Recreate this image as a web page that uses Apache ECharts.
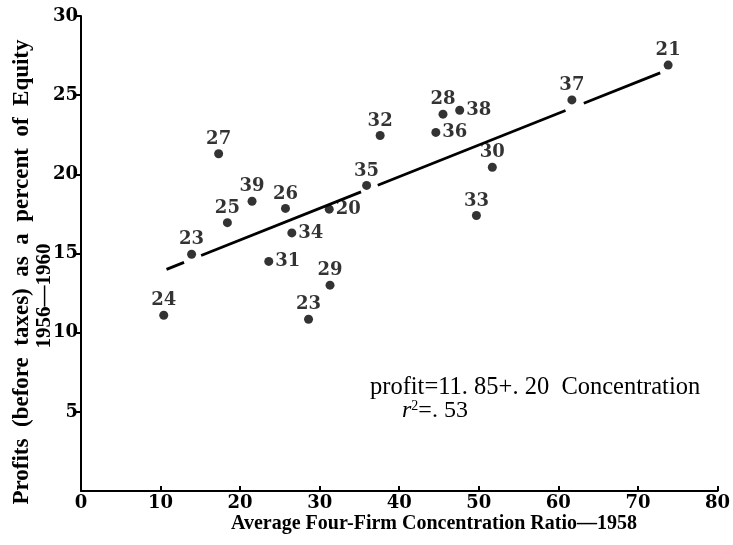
<!DOCTYPE html>
<html>
<head>
<meta charset="utf-8">
<script src="https://cdn.jsdelivr.net/npm/echarts@6/dist/echarts.min.js"></script>
<style>
  html, body { margin: 0; padding: 0; background: #fff; }
  #chart { width: 733px; height: 545px; }
</style>
</head>
<body>
<div id="chart"></div>
<script>
// Industry codes plotted at (concentration ratio, profit rate)
const industry = ['24', '23', '27', '25', '39', '26', '34', '31', '20', '29', '23',
                  '35', '32', '28', '38', '36', '30', '33', '37', '21'];
const concentration = [10.4, 13.9, 17.3, 18.4, 21.5, 25.7, 26.5, 23.6, 31.2, 31.3, 28.6,
                       35.9, 37.6, 45.5, 47.6, 44.6, 51.7, 49.7, 61.7, 73.8];
const profitRate = [11.1, 14.95, 21.3, 16.95, 18.3, 17.85, 16.3, 14.5, 17.8, 13.0, 10.85,
                    19.3, 22.45, 23.8, 24.05, 22.65, 20.45, 17.4, 24.7, 26.9];

// Fitted line: profit = 11.85 + .20 Concentration, drawn in pieces
const fitIntercept = 11.85;
const fitSlope = 0.20;
const fitPieces = [[10.75, 12.95], [15.1, 35.2], [37.3, 60.9], [63.2, 72.8]];

const xTicks = [0, 10, 20, 30, 40, 50, 60, 70, 80];
const yTicks = [0, 5, 10, 15, 20, 25, 30];

// codes whose label sits to the right of the dot
const labelRight = new Set(['34', '31', '20', '38', '36']);

const numFont = 'DejaVu Serif';
const textFont = '"Liberation Serif", "DejaVu Serif", serif';

const points = concentration.map((x, i) => ({
  value: [x, profitRate[i]],
  name: industry[i],
  label: labelRight.has(industry[i])
    ? { position: 'right', distance: 2 }
    : { position: 'top', distance: 1 }
}));

const fitSeries = fitPieces.map(([a, b]) => ({
  type: 'line',
  data: [[a, fitIntercept + fitSlope * a], [b, fitIntercept + fitSlope * b]],
  symbol: 'none',
  silent: true,
  lineStyle: { color: '#000', width: 2.8 },
  z: 2
}));

const chart = echarts.init(document.getElementById('chart'), null, { renderer: 'canvas' });

chart.setOption({
  animation: false,
  backgroundColor: '#fff',
  grid: { left: 81, right: 14, top: 16, bottom: 54, containLabel: false },
  xAxis: {
    type: 'value',
    min: xTicks[0],
    max: xTicks[xTicks.length - 1],
    interval: 10,
    axisLine: { lineStyle: { color: '#000', width: 2 } },
    axisTick: { inside: true, length: 5, lineStyle: { color: '#000', width: 2 } },
    axisLabel: {
      color: '#000', fontFamily: numFont, fontWeight: 'bold', fontSize: 18, margin: 3
    },
    splitLine: { show: false }
  },
  yAxis: {
    type: 'value',
    min: yTicks[0],
    max: yTicks[yTicks.length - 1],
    interval: 5,
    axisLine: { show: true, lineStyle: { color: '#000', width: 2 } },
    axisTick: { show: true, inside: false, length: 6, lineStyle: { color: '#000', width: 2 } },
    axisLabel: {
      color: '#000', fontFamily: numFont, fontWeight: 'bold', fontSize: 18, margin: 3,
      showMinLabel: false
    },
    splitLine: { show: false }
  },
  series: [
    ...fitSeries,
    {
      type: 'scatter',
      data: points,
      symbol: 'circle',
      symbolSize: 9,
      itemStyle: { color: '#000' },
      label: {
        show: true,
        formatter: p => p.name,
        color: '#000',
        fontFamily: numFont,
        fontWeight: 'bold',
        fontSize: 18
      },
      z: 3
    }
  ],
  graphic: [
    {
      type: 'text',
      x: 22, y: 272,
      rotation: Math.PI / 2,
      style: {
        text: 'Profits  (before  taxes)  as  a  percent  of  Equity',
        font: 'bold 23px ' + textFont,
        fill: '#000',
        align: 'center',
        verticalAlign: 'middle'
      }
    },
    {
      type: 'text',
      x: 45, y: 296,
      rotation: Math.PI / 2,
      style: {
        text: '1956—1960',
        font: 'bold 21px ' + textFont,
        fill: '#000',
        align: 'center',
        verticalAlign: 'middle'
      }
    },
    {
      type: 'text',
      x: 434, y: 524,
      style: {
        text: 'Average Four-Firm Concentration Ratio—1958',
        font: 'bold 20px ' + textFont,
        fill: '#000',
        align: 'center',
        verticalAlign: 'middle'
      }
    },
    {
      type: 'text',
      x: 370, y: 388,
      style: {
        text: 'profit=11. 85+. 20  Concentration',
        font: '24.5px ' + textFont,
        fill: '#000',
        align: 'left',
        verticalAlign: 'middle'
      }
    },
    {
      type: 'text',
      x: 402, y: 411,
      style: {
        rich: {
          r: { font: 'italic 24px ' + textFont, fill: '#000' },
          sup: { font: '14px ' + textFont, fill: '#000', verticalAlign: 'top', padding: [0, 0, 10, 0] },
          t: { font: '24px ' + textFont, fill: '#000' }
        },
        text: '{r|r}{sup|2}{t|=. 53}',
        align: 'left',
        verticalAlign: 'middle'
      }
    }
  ]
});
</script>
</body>
</html>
